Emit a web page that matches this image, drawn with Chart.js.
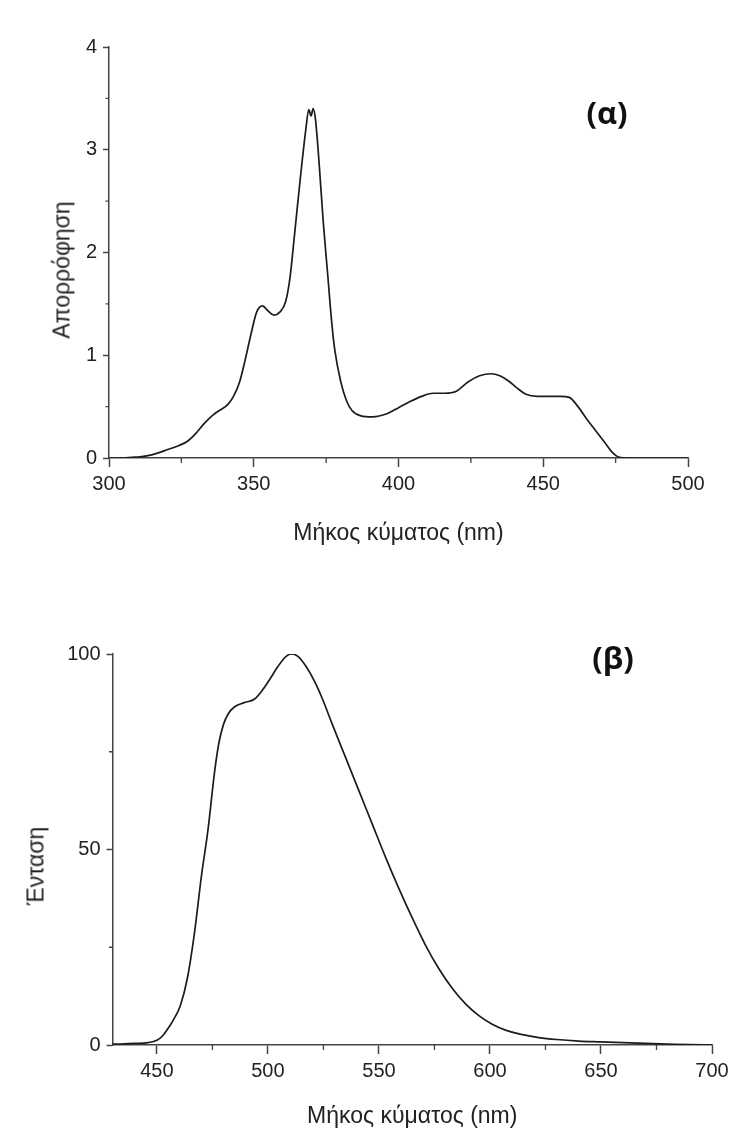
<!DOCTYPE html>
<html>
<head>
<meta charset="utf-8">
<script src="https://cdn.jsdelivr.net/npm/chart.js@4.4.1/dist/chart.umd.min.js"></script>
<style>
    body { margin: 0; background: #fff; width: 734px; height: 1133px; position: relative; overflow: hidden; font-family: 'Liberation Sans', Arial, sans-serif; }
    canvas { position: absolute; left: 0; }
    #chartAbs { top: 0; }
    #chartEm { top: 560px; }
    .panel { position: absolute; font-family: 'Open Sans', sans-serif; font-weight: 700; font-size: 31px; color: #111; transform: translate(-50%, -50%); }
    .ytitle { position: absolute; font-size: 23px; color: #222; white-space: nowrap; transform: translate(-50%, -50%) rotate(-90deg); }
</style>
</head>
<body>
<canvas id="chartAbs" width="734" height="560"></canvas>
<canvas id="chartEm" width="734" height="573"></canvas>
<div class="panel" style="left:607px;top:112px">(α)</div>
<div class="panel" style="left:613px;top:657px">(β)</div>
<div class="ytitle" style="left:62px;top:270px">Απορρόφηση</div>
<div class="ytitle" style="left:36px;top:866px">Ένταση</div>
<script>
// --- DATA: (α) absorption spectrum ---
const absWavelength = [300, 305, 310, 313, 317, 320, 324, 327, 330, 333, 336, 338, 341, 343, 345, 347, 349, 351, 353, 355,
    357, 359, 361, 362.5, 364, 366, 368, 369, 369.8, 370.5, 371.3, 372.5, 374, 375.5, 377, 378, 380, 382, 384, 387,
    391, 396, 400, 404, 408, 412, 416, 420, 424, 428, 432, 435, 438, 441, 444, 448, 452, 456, 459, 462,
    465, 468, 471, 474, 476, 480, 490, 500];
const absValue = [0, 0, 0.01, 0.02, 0.05, 0.08, 0.12, 0.16, 0.24, 0.34, 0.42, 0.46, 0.52, 0.6, 0.73, 0.95, 1.2, 1.42, 1.48, 1.43,
    1.39, 1.42, 1.52, 1.75, 2.15, 2.7, 3.2, 3.39, 3.33, 3.4, 3.3, 2.9, 2.3, 1.8, 1.3, 1.05, 0.75, 0.56, 0.46, 0.41,
    0.40, 0.43, 0.49, 0.55, 0.6, 0.63, 0.63, 0.65, 0.74, 0.8, 0.82, 0.80, 0.75, 0.68, 0.62, 0.60, 0.60, 0.60, 0.59, 0.5,
    0.38, 0.27, 0.16, 0.05, 0.01, 0, 0, 0];
const absXTicks = [300, 350, 400, 450, 500];
const absXMinor = [325, 375, 425, 475];
const absYTicks = [0, 1, 2, 3, 4];
const absYMinor = [0.5, 1.5, 2.5, 3.5];

// --- DATA: (β) emission spectrum ---
const emWavelength = [430, 440, 446, 450, 452.5, 455, 457.5, 460.5, 463.7, 467, 470, 473, 476, 478, 480, 482, 485, 489, 494, 497.7,
    500.7, 504.5, 508.2, 510.5, 513.5, 517.2, 521, 524.7, 529, 535, 541, 547, 553, 559, 565, 571, 577, 583, 589, 595,
    601, 607, 614, 622, 630, 640, 650, 660, 670, 680, 690, 700];
const emValue = [0.2, 0.4, 0.6, 1.2, 2.3, 4.2, 6.5, 10, 17, 29, 43, 55, 70, 77.5, 82, 84.6, 86.5, 87.5, 88.5, 90.9,
    93.4, 96.8, 99.4, 100, 99.4, 96.8, 93, 88.3, 82, 73.5, 65, 56.5, 48, 40, 32.5, 25.5, 19.5, 14.5, 10.5, 7.5,
    5.3, 3.8, 2.7, 1.9, 1.4, 1.0, 0.8, 0.6, 0.4, 0.25, 0.1, 0];
const emXTicks = [450, 500, 550, 600, 650, 700];
const emXMinor = [475, 525, 575, 625, 675];
const emYTicks = [0, 50, 100];
const emYMinor = [25, 75];

const AXIS_COLOR = '#444';
const TEXT_COLOR = '#222';

// --- PLUGIN: short minor ticks (Chart.js has no minor ticks) ---
const minorTicks = {
    id: 'minorTicks',
    afterDraw(chart, args, opts) {
        const ctx = chart.ctx;
        const xs = chart.scales.x, ys = chart.scales.y;
        ctx.save();
        ctx.strokeStyle = AXIS_COLOR;
        ctx.lineWidth = 1.3;
        ctx.beginPath();
        opts.x.forEach(v => {
            const px = xs.getPixelForValue(v);
            ctx.moveTo(px, xs.top);
            ctx.lineTo(px, xs.top + opts.xLen);
        });
        opts.y.forEach(v => {
            const py = ys.getPixelForValue(v);
            ctx.moveTo(ys.right, py);
            ctx.lineTo(ys.right - opts.yLen, py);
        });
        ctx.stroke();
        ctx.restore();
    }
};

function makeSpectrum(canvasId, xs, ys, cfg) {
    const ctx = document.getElementById(canvasId).getContext('2d');
    return new Chart(ctx, {
        type: 'line',
        data: {
            datasets: [{
                data: xs.map((x, i) => ({ x: x, y: ys[i] })),
                borderColor: '#1c1c1c',
                borderWidth: 1.7,
                pointRadius: 0,
                cubicInterpolationMode: 'monotone',
                fill: false
            }]
        },
        plugins: [minorTicks],
        options: {
            responsive: false,
            animation: false,
            devicePixelRatio: 1,
            layout: { padding: cfg.padding },
            plugins: {
                legend: { display: false },
                tooltip: { enabled: false },
                minorTicks: { x: cfg.xMinor, y: cfg.yMinor, xLen: 5, yLen: 3.5 }
            },
            scales: {
                x: {
                    type: 'linear',
                    min: cfg.xMin,
                    max: cfg.xMax,
                    afterBuildTicks: s => { s.ticks = cfg.xTicks.map(v => ({ value: v })); },
                    afterFit: s => { s.height = cfg.xHeight; },
                    ticks: {
                        padding: 5,
                        maxRotation: 0,
                        color: TEXT_COLOR,
                        font: { family: "'Liberation Sans', Arial, sans-serif", size: 20 }
                    },
                    grid: { drawOnChartArea: false, tickLength: 9, tickWidth: 1.5, tickColor: AXIS_COLOR },
                    border: { color: AXIS_COLOR, width: 1.5 },
                    title: {
                        display: true,
                        text: 'Μήκος κύματος (nm)',
                        color: TEXT_COLOR,
                        font: { family: "'Liberation Sans', Arial, sans-serif", size: 23 },
                        padding: { top: 0, bottom: cfg.titlePad }
                    }
                },
                y: {
                    type: 'linear',
                    min: cfg.yMin,
                    max: cfg.yMax,
                    afterBuildTicks: s => { s.ticks = cfg.yTicks.map(v => ({ value: v })); },
                    afterFit: s => { s.width = cfg.yWidth; },
                    ticks: {
                        padding: 6,
                        color: TEXT_COLOR,
                        font: { family: "'Liberation Sans', Arial, sans-serif", size: 20 }
                    },
                    grid: { drawOnChartArea: false, tickLength: 6, tickWidth: 1.5, tickColor: AXIS_COLOR },
                    border: { color: AXIS_COLOR, width: 1.5 }
                }
            }
        }
    });
}

// --- CHART (α): Absorption ---
makeSpectrum('chartAbs', absWavelength, absValue, {
    xMin: 300, xMax: 500, yMin: 0, yMax: 4,
    xTicks: absXTicks, xMinor: absXMinor, yTicks: absYTicks, yMinor: absYMinor,
    padding: { top: 47, right: 46, bottom: 0, left: 0 },
    xHeight: 102, yWidth: 109, titlePad: 13
});

// --- CHART (β): Emission ---
makeSpectrum('chartEm', emWavelength, emValue, {
    xMin: 430, xMax: 700, yMin: 0, yMax: 100,
    xTicks: emXTicks, xMinor: emXMinor, yTicks: emYTicks, yMinor: emYMinor,
    padding: { top: 94, right: 22, bottom: 0, left: 0 },
    xHeight: 88, yWidth: 112.5, titlePad: 3
});
</script>
</body>
</html>
